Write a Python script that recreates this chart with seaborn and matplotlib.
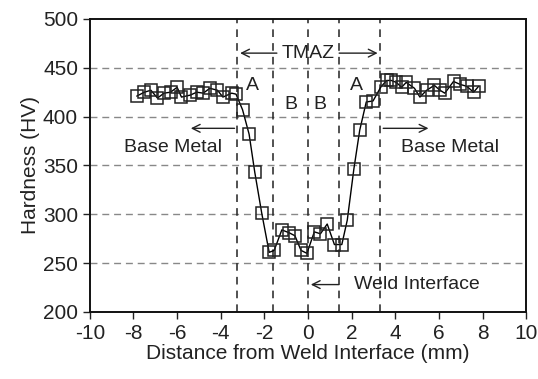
import matplotlib
matplotlib.use("Agg")
import matplotlib.pyplot as plt
import seaborn as sns
import pandas as pd

# Data
distance_mm = [-7.85, -7.5, -7.2, -6.9, -6.6, -6.3, -6.0, -5.8, -5.4, -5.1, -4.8, -4.5,
               -4.15, -3.9, -3.5, -3.3, -3.0, -2.7, -2.44, -2.12, -1.78, -1.55, -1.2,
               -0.86, -0.6, -0.32, -0.05, 0.29, 0.57, 0.88, 1.21, 1.55, 1.8, 2.1, 2.37,
               2.67, 2.98, 3.33, 3.6, 3.82, 4.05, 4.29, 4.5, 4.88, 5.13, 5.44, 5.79,
               6.05, 6.27, 6.67, 6.97, 7.28, 7.59, 7.82]
hardness_hv = [421, 425, 427, 419, 424, 425, 430, 420, 422, 425, 424, 429,
               427, 420, 424, 423, 407, 382, 343, 301, 261, 263, 284,
               281, 278, 263, 260, 282, 280, 290, 269, 269, 294, 346, 386,
               415, 416, 430, 437, 437, 435, 430, 435, 429, 420, 427, 432,
               427, 424, 436, 433, 431, 425, 431]
zone_bounds_mm = [-3.24, -1.61, 0.0, 1.41, 3.32]
zone_labels = ["A", "B", "B", "A"]
zone_label_x = [-2.55, -0.78, 0.55, 2.2]
zone_label_y = [432, 412, 412, 432]

sns.set_theme(style="ticks")
plt.rcParams['font.family'] = ['Liberation Sans', 'DejaVu Sans']
plt.rcParams['axes.unicode_minus'] = False

fig = plt.figure(figsize=(5.38, 3.79), dpi=100)
ax = fig.add_axes([0.167, 0.177, 0.811, 0.773])

df = pd.DataFrame({"x": distance_mm, "hv": hardness_hv})

# grid
for v in [250, 300, 350, 400, 450]:
    ax.axhline(v, color="#888888", lw=1.0, ls=(0, (5, 3.5)), zorder=0)
for xb in zone_bounds_mm:
    ax.axvline(xb, color="#222222", lw=1.1, ls=(0, (5, 4)), zorder=1)

sns.lineplot(data=df, x="x", y="hv", ax=ax, sort=True, color="black", lw=1.0,
             marker="s", markersize=8.5, markerfacecolor="none",
             markeredgecolor="#222222", markeredgewidth=1.1, zorder=3)

ax.set_xlim(-10, 10)
ax.set_ylim(200, 500)
ax.set_xticks(range(-10, 11, 2))
ax.set_yticks(range(200, 501, 50))
ax.tick_params(direction="out", length=5, width=1.0, labelsize=15, colors="#222222")
for s in ax.spines.values():
    s.set_linewidth(1.4)
    s.set_color("#111111")
ax.set_xlabel("Distance from Weld Interface (mm)", fontsize=15, color="#222222", labelpad=1)
ax.set_ylabel("Hardness (HV)", fontsize=15, color="#222222", labelpad=2)

fs = 14
for lab, lx, ly in zip(zone_labels, zone_label_x, zone_label_y):
    ax.text(lx, ly, lab, fontsize=fs, ha="center", va="center", color="#222222")

# TMAZ
ax.text(0, 465, "TMAZ", fontsize=fs, ha="center", va="center", color="#222222")
arr = dict(arrowstyle="->", color="#222222", lw=1.0, mutation_scale=14)
ax.annotate("", xy=(-3.24, 465), xytext=(-1.3, 465), arrowprops=arr)
ax.annotate("", xy=(3.32, 465), xytext=(1.3, 465), arrowprops=arr)

# Base metal
ax.annotate("", xy=(-5.5, 388), xytext=(-3.24, 388), arrowprops=arr)
ax.text(-6.2, 368, "Base Metal", fontsize=fs, ha="center", va="center", color="#222222")
ax.annotate("", xy=(5.65, 388), xytext=(3.32, 388), arrowprops=arr)
ax.text(6.5, 368, "Base Metal", fontsize=fs, ha="center", va="center", color="#222222")

# Weld interface
ax.annotate("", xy=(0.0, 228), xytext=(1.55, 228), arrowprops=arr)
ax.text(2.1, 228, "Weld Interface", fontsize=fs, ha="left", va="center", color="#222222")

fig.savefig("out.png", dpi=100)
